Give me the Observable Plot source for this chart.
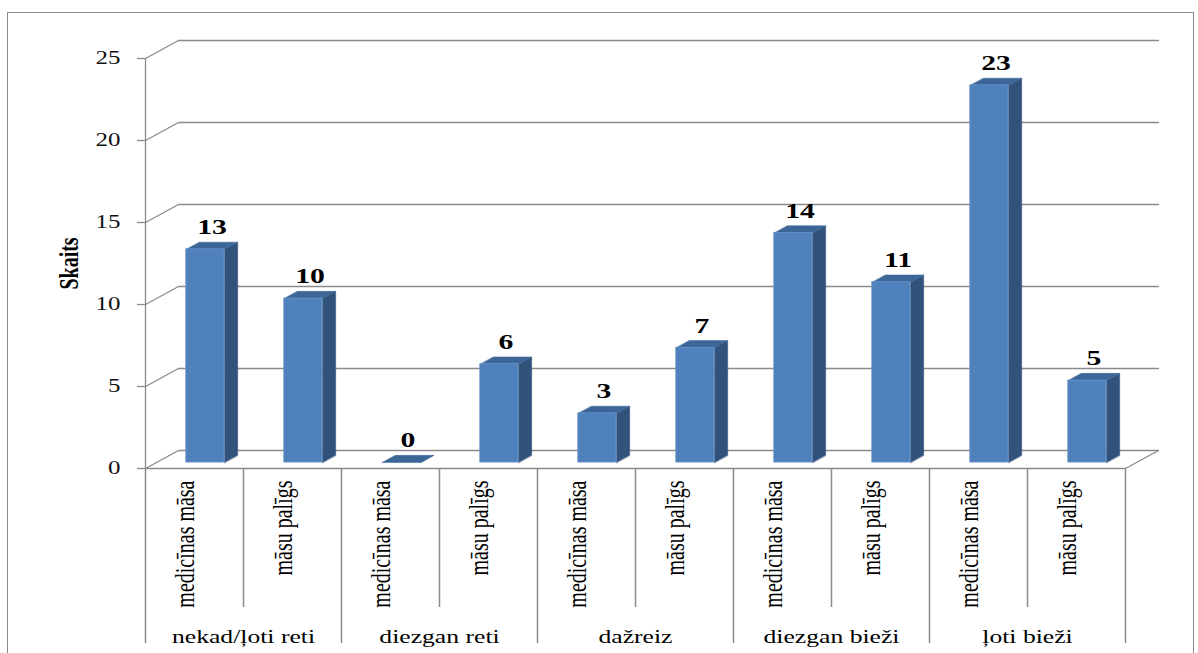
<!DOCTYPE html>
<html>
<head>
<meta charset="utf-8">
<script src="https://cdn.jsdelivr.net/npm/d3@7"></script>
<script src="https://cdn.jsdelivr.net/npm/@observablehq/plot@0.6"></script>
<style>
  body { margin: 0; background: #fff; }
  #wrap { position: relative; width: 1198px; height: 653px; overflow: hidden; background: #fff; }
  #border { position: absolute; left: 7px; top: 12px; width: 1185px; height: 700px;
            border: 1.5px solid #8c8c8c; pointer-events: none; }
</style>
</head>
<body>
<div id="wrap"><div id="border"></div></div>
<script>
// Frequency groups and the two staff roles within each group
const groups = ["nekad/ļoti reti", "diezgan reti", "dažreiz", "diezgan bieži", "ļoti bieži"];
const roles = ["medicīnas māsa", "māsu palīgs"];
const nurses = [13, 0, 3, 14, 23];
const assistants = [10, 6, 7, 11, 5];
const yTicks = [0, 5, 10, 15, 20, 25];
const yLabel = "Skaits";

// Layout of the front plane of the 3-D box
const W = 1198, H = 653;
const mL = 145, mR = 73, mT = 58, mB = 185;
const nSlots = groups.length * roles.length;
const yMax = 25;
const PX = (W - mL - mR) / nSlots;   // pixels per slot
const PY = (H - mT - mB) / yMax;     // pixels per unit
const frameH = H - mT - mB;

// Oblique depth of the box (pixels at full depth)
const DEPTH_X = 33, DEPTH_Y = 18;
const D0 = 0.33, D1 = 0.73;          // bar front / back depth
const HW = 0.195;                    // bar half width in slots

// Point in slot/value space at a given depth (0 = front, 1 = back)
const at = (s, v, d) => ({x: s + d * DEPTH_X / PX, y: v + d * DEPTH_Y / PY});

const GRID = "#8a8a8a";
const FRONT = "#4f81bd", SIDE = "#30527b", TOP = "#3c6598";

const rows = groups.flatMap((g, gi) => roles.map((r, ri) => ({
  group: g, role: r, slot: gi * roles.length + ri,
  value: ri === 0 ? nurses[gi] : assistants[gi]
})));

// Back wall and left wall gridlines
const wallPts = yTicks.flatMap(t => [
  {k: t, ...at(0, t, 0)}, {k: t, ...at(0, t, 1)}, {k: t, ...at(nSlots, t, 1)}
]);
const floorPts = [at(0, 0, 0), at(nSlots, 0, 0), at(nSlots, 0, 1)];

// Side and top faces of each bar
const sidePts = rows.flatMap(r => {
  const xr = r.slot + 0.5 + HW;
  return [at(xr, 0, D0), at(xr, r.value, D0), at(xr, r.value, D1), at(xr, 0, D1)]
    .map(p => ({id: r.slot, ...p}));
});
const topPts = rows.flatMap(r => {
  const xl = r.slot + 0.5 - HW, xr = r.slot + 0.5 + HW;
  return [at(xl, r.value, D0), at(xr, r.value, D0), at(xr, r.value, D1), at(xl, r.value, D1)]
    .map(p => ({id: r.slot, ...p}));
});

const boundaries = d3.range(0, nSlots + 1);

const chart = Plot.plot({
  width: W, height: H,
  marginLeft: mL, marginRight: mR, marginTop: mT, marginBottom: mB,
  x: {type: "linear", domain: [0, nSlots], axis: null},
  y: {type: "linear", domain: [0, yMax], axis: null},
  style: {fontFamily: "'Liberation Serif', 'Times New Roman', serif", fontSize: "19px", color: "#000", background: "transparent", overflow: "visible"},
  marks: [
    Plot.line(wallPts, {x: "x", y: "y", z: "k", stroke: GRID, strokeWidth: 1.3}),
    Plot.line(floorPts, {x: "x", y: "y", stroke: GRID, strokeWidth: 1.3}),
    Plot.ruleX([0], {y1: 0, y2: yMax, stroke: GRID, strokeWidth: 1.3}),
    Plot.ruleY(yTicks, {y: d => d, x1: -8 / PX, x2: 0, stroke: GRID, strokeWidth: 1.3}),
    // bars
    Plot.line(sidePts, {x: "x", y: "y", z: "id", curve: "linear-closed", fill: SIDE, stroke: SIDE, strokeWidth: 0.5}),
    Plot.line(topPts, {x: "x", y: "y", z: "id", curve: "linear-closed", fill: TOP, stroke: TOP, strokeWidth: 0.5}),
    Plot.rect(rows, {
      x1: r => at(r.slot + 0.5 - HW, 0, D0).x,
      x2: r => at(r.slot + 0.5 + HW, 0, D0).x,
      y1: r => at(0, 0, D0).y,
      y2: r => at(0, r.value, D0).y,
      fill: FRONT, stroke: "#6a96cb", strokeWidth: 0.8
    }),
    Plot.text(rows, {
      x: r => at(r.slot + 0.5, 0, (D0 + D1) / 2).x,
      y: r => at(0, r.value, D1).y,
      text: r => String(r.value),
      dy: -15, fontWeight: "bold", fontSize: 22, fill: "#000"
    }),
    // y tick labels and title
    Plot.text(yTicks, {x: 0, y: d => d, text: d => String(d), textAnchor: "end", dx: -25, fontSize: 18.5, fill: "#111"}),
    Plot.text([yLabel], {frameAnchor: "left", text: d => d, rotate: -90, textAnchor: "middle", lineAnchor: "middle", dx: -76, fontWeight: "bold", fontSize: 20}),
    // category separators below the floor
    Plot.ruleX(boundaries.filter(b => b % roles.length === 0), {x: d => d, insetTop: frameH, insetBottom: -175, stroke: GRID, strokeWidth: 1.5}),
    Plot.ruleX(boundaries.filter(b => b % roles.length !== 0), {x: d => d, insetTop: frameH, insetBottom: -139, stroke: GRID, strokeWidth: 1.5}),
    // role labels (vertical) and group labels
    Plot.text(rows, {x: r => r.slot + 0.5, frameAnchor: "bottom", text: "role", rotate: -90, textAnchor: "end", dx: -1, dy: 12, fontSize: 20}),
    Plot.text(groups, {x: (d, i) => i * roles.length + roles.length / 2, frameAnchor: "bottom", text: d => d, dy: 174, fontSize: 19})
  ]
});

// Widen all glyphs horizontally
const STRETCH = 1.35;
chart.querySelectorAll("text").forEach(t => {
  let tr = t.getAttribute("transform");
  if (!tr) {
    const x = +(t.getAttribute("x") || 0), y = +(t.getAttribute("y") || 0);
    t.removeAttribute("x"); t.removeAttribute("y");
    tr = `translate(${x},${y})`;
  }
  if (/^translate\([^)]*\)/.test(tr)) {
    t.setAttribute("transform", tr.replace(/^(translate\([^)]*\))/, `$1 scale(${STRETCH},1)`));
  } else {
    t.setAttribute("transform", `scale(${STRETCH},1) ` + tr);
  }
});

document.getElementById("wrap").prepend(chart);
</script>
</body>
</html>
